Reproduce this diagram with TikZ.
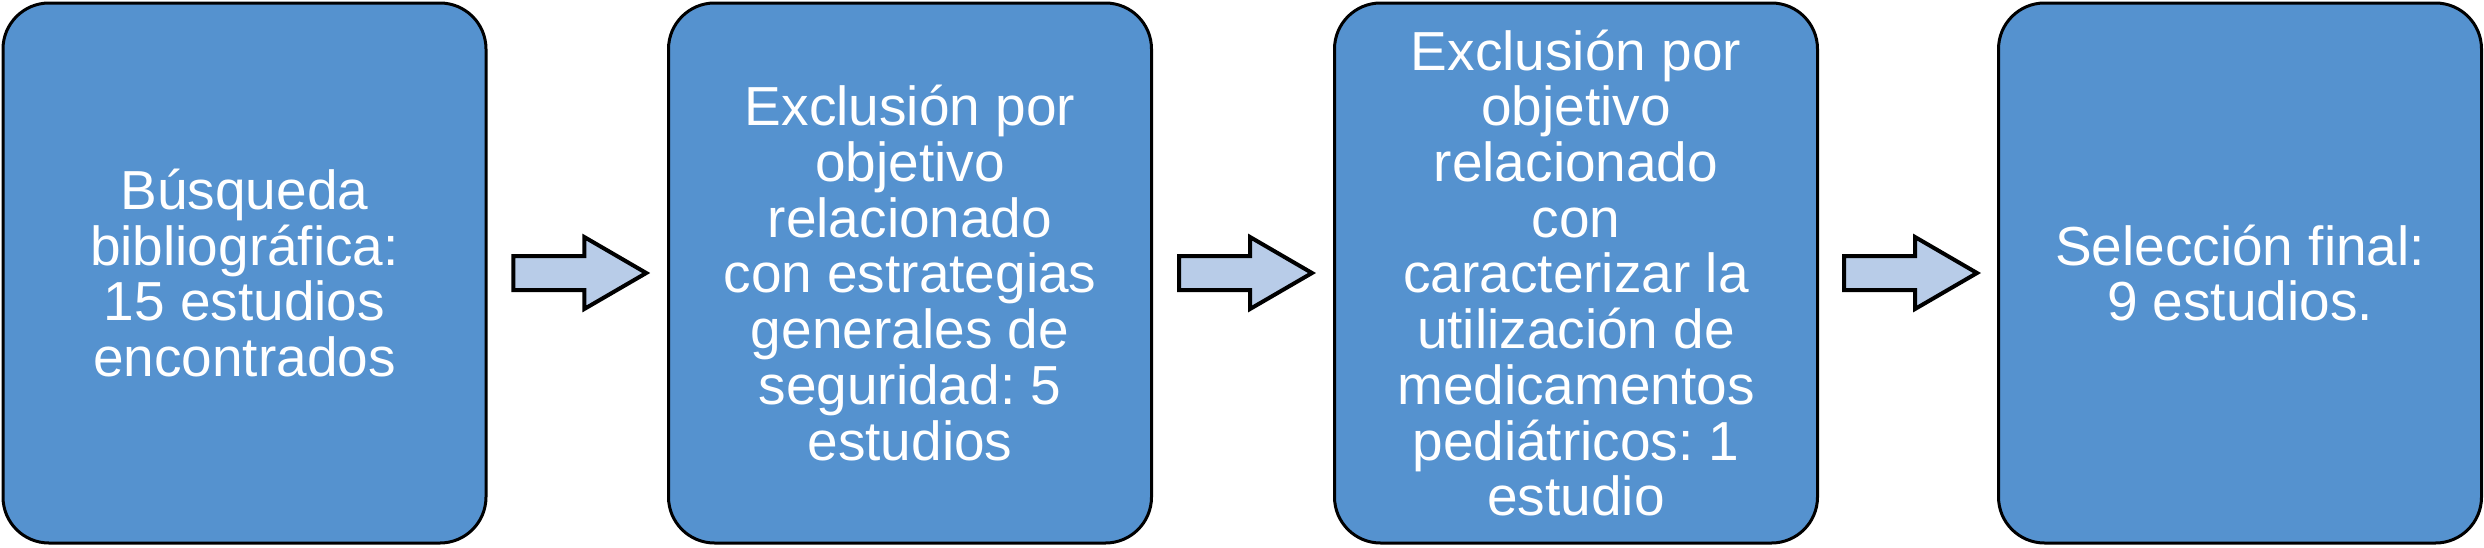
\documentclass[tikz,border=0pt]{standalone}
\usepackage{fontspec}
\setmainfont{Liberation Sans}
\usetikzlibrary{calc}
\frenchspacing
\definecolor{boxblue}{HTML}{5592CF}
\definecolor{arrblue}{HTML}{B8CCE8}
\tikzset{
  stepbox/.style={draw=black, line width=3pt, fill=boxblue, rounded corners=46pt,
    minimum width=483pt, minimum height=540pt, inner sep=0pt,
    text=white, align=center,
    font=\fontsize{55}{55.7}\selectfont\frenchspacing},
  fatarrow/.style={draw=black, line width=4pt, fill=arrblue, line join=miter}
}
\begin{document}
\begin{tikzpicture}[x=1pt, y=-1pt]
\useasboundingbox (0,0) rectangle (2484,547);
\node[stepbox] (b1) at (244.5,273) {Búsqueda\\bibliográfica:\\15 estudios\\encontrados};
\node[stepbox] (b2) at (910,273) {Exclusión por\\objetivo\\relacionado\\con estrategias\\generales de\\seguridad: 5\\estudios};
\node[stepbox] (b3) at (1576,273) {Exclusión por\\objetivo\\relacionado\\con\\caracterizar la\\utilización de\\medicamentos\\pediátricos: 1\\estudio};
\node[stepbox] (b4) at (2240,273) {Selección final:\\9 estudios.};
\foreach \a/\b/\n in {b1/b2/m1, b2/b3/m2, b3/b4/m3}{
  \path (\a.east) -- (\b.west) coordinate[pos=0.5] (\n);
  \draw[fatarrow] ($(\n)+(-64,-17)$) -- ++(71,0) -- ++(0,-19) -- ++(62,36)
    -- ++(-62,36) -- ++(0,-19) -- ++(-71,0) -- cycle;
}
\end{tikzpicture}
\end{document}
